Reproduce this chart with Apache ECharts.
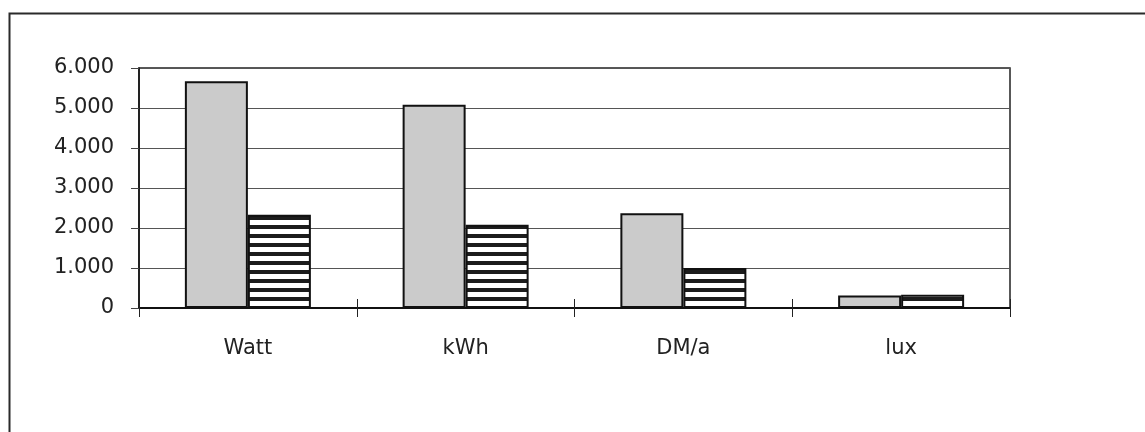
<!DOCTYPE html>
<html>
<head>
<meta charset="utf-8">
<script src="https://cdn.jsdelivr.net/npm/echarts@6/dist/echarts.min.js"></script>
<style>
  html, body { margin: 0; padding: 0; background: #fff; }
  #chart { width: 1145px; height: 432px; }
</style>
</head>
<body>
<div id="chart"></div>
<script>
// Categories and the two compared series (before / after)
const categories = ['Watt', 'kWh', 'DM/a', 'lux'];
const seriesBefore = [5670, 5080, 2370, 310];
const seriesAfter = [2330, 2080, 1000, 330];
const yTicks = { min: 0, max: 6000, interval: 1000 };

// Horizontal stripe fill for the second series
function stripePattern() {
  const c = document.createElement('canvas');
  c.width = 9; c.height = 9;
  const ctx = c.getContext('2d');
  ctx.fillStyle = '#ffffff';
  ctx.fillRect(0, 0, 9, 9);
  ctx.fillStyle = '#1c1c1c';
  ctx.fillRect(0, 0, 9, 4);
  return c;
}

// Thousands separator with a dot: 6000 -> "6.000"
function fmt(v) {
  return String(v).replace(/\B(?=(\d{3})+(?!\d))/g, '.');
}

const chart = echarts.init(document.getElementById('chart'), null, { renderer: 'canvas' });

const font = 'DejaVu Sans';

chart.setOption({
  backgroundColor: '#ffffff',
  animation: false,
  graphic: [{
    type: 'rect',
    left: 7, top: 11,
    shape: { width: 1200, height: 500 },
    style: { fill: 'none', stroke: '#2a2a2a', lineWidth: 2 },
    silent: true
  }],
  grid: {
    left: 139, right: 135, top: 68, bottom: 124,
    show: true, borderColor: '#222', borderWidth: 1.5, backgroundColor: 'transparent'
  },
  xAxis: [{
    type: 'category',
    data: categories,
    axisLine: { show: true, lineStyle: { color: '#111', width: 2 } },
    axisTick: { show: true, length: 9, lineStyle: { color: '#222', width: 1 } },
    axisLabel: { margin: 30, fontFamily: font, fontSize: 21, color: '#222' }
  }, {
    type: 'category',
    data: categories,
    position: 'bottom',
    axisLine: { show: false },
    axisTick: { show: true, inside: true, length: 9, lineStyle: { color: '#222', width: 1 } },
    axisLabel: { show: false }
  }],
  yAxis: {
    type: 'value',
    min: yTicks.min, max: yTicks.max, interval: yTicks.interval,
    axisLine: { show: true, lineStyle: { color: '#111', width: 1.5 } },
    axisTick: { show: true, length: 8, lineStyle: { color: '#444', width: 1 } },
    axisLabel: { margin: 25, fontFamily: font, fontSize: 21, color: '#222', formatter: fmt },
    splitLine: { show: true, lineStyle: { color: '#555', width: 1.2 } }
  },
  series: [{
    type: 'bar',
    data: seriesBefore,
    barWidth: 63,
    barGap: '0%',
    itemStyle: { color: '#cbcbcb', borderColor: '#111', borderWidth: 2 }
  }, {
    type: 'bar',
    data: seriesAfter,
    barWidth: 63,
    itemStyle: {
      color: { image: stripePattern(), repeat: 'repeat' },
      borderColor: '#111', borderWidth: 2
    }
  }]
});
</script>
</body>
</html>
